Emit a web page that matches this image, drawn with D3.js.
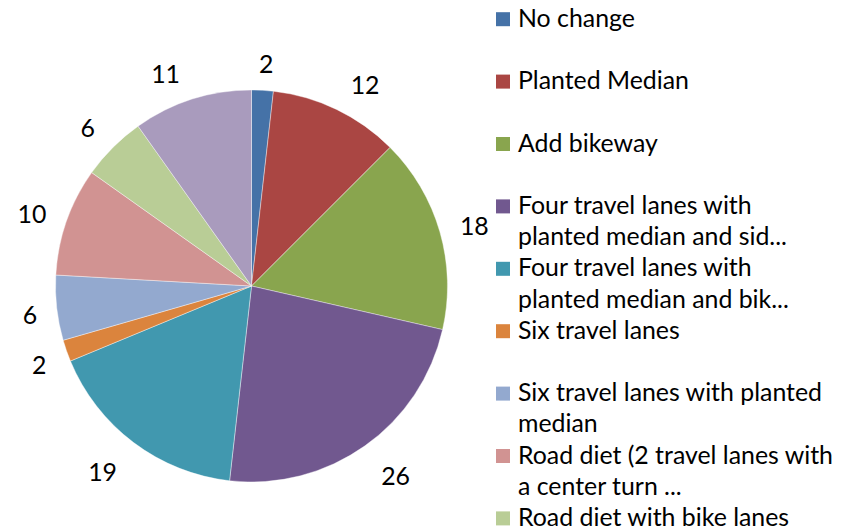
<!DOCTYPE html>
<html><head><meta charset="utf-8">
<script src="https://cdn.jsdelivr.net/npm/d3@7"></script>
<style>html,body{margin:0;padding:0;background:#fff;overflow:hidden}</style>
</head><body>
<svg id="c" width="857" height="530"></svg>
<script>
const categories = ["No change","Planted Median","Add bikeway","Four travel lanes with planted median and sid...","Four travel lanes with planted median and bik...","Six travel lanes","Six travel lanes with planted median","Road diet (2 travel lanes with a center turn ...","Road diet with bike lanes","Other"];
const values = [2,12,18,26,19,2,6,10,6,11];
const legendLines = [["No change"],["Planted Median"],["Add bikeway"],["Four travel lanes with","planted median and sid..."],["Four travel lanes with","planted median and bik..."],["Six travel lanes"],["Six travel lanes with planted","median"],["Road diet (2 travel lanes with","a center turn ..."],["Road diet with bike lanes"],["Other"]];
const colors = ["#4572A7","#AA4643","#89A54E","#71588F","#4198AF","#DB843D","#93A9CF","#D19392","#B9CD96","#A99BBD"];

const svg = d3.select("#c");
const FONT = "Lato, 'Open Sans', sans-serif";

// fit font size so reference string matches measured width
const probe = svg.append("text").attr("font-family",FONT).attr("font-size",100).text("Road diet (2 travel lanes with");
const w100 = probe.node().getComputedTextLength();
probe.remove();
const fs = 100*315/w100;

const cx = 251.5, cy = 286, R = 196;
const color = d3.scaleOrdinal().domain(categories).range(colors);
const pie = d3.pie().sort(null).value(d=>d.v);
const data = categories.map((c,i)=>({c, v:values[i]}));
const arcs = pie(data);
const arc = d3.arc().innerRadius(0).outerRadius(R);

const g = svg.append("g").attr("transform",`translate(${cx},${cy})`);
g.selectAll("path").data(arcs).join("path")
  .attr("d",arc).attr("fill",d=>color(d.data.c))
  .attr("stroke","#fff").attr("stroke-width",0.4);

// labels outside end (box placed outside the circle)
const RL = R + 19;
const clamp = (v)=>Math.max(-1, Math.min(1, v));
g.selectAll("text.lbl").data(arcs).join("text")
  .attr("class","lbl")
  .attr("font-family",FONT).attr("font-size",fs).attr("fill","#000")
  .attr("text-anchor","middle").attr("dominant-baseline","central")
  .text(d=>d.data.v)
  .each(function(d){
    const w = this.getComputedTextLength();
    const a = (d.startAngle+d.endAngle)/2;
    const s = Math.sin(a), c = Math.cos(a);
    const x = RL*s + (w/2 + 6.5*Math.abs(c))*clamp(s/0.3);
    const y = -RL*c - 11*clamp(c/0.8) + 2.5;
    d3.select(this).attr("x", x).attr("y", y);
  });

// legend
const lineH = 31.2, base0 = 26.7;
let line = 0;
const leg = svg.append("g");
legendLines.forEach((ls,i)=>{
  const b = base0 + line*lineH;
  leg.append("rect").attr("x",496).attr("y",b-14.5).attr("width",14).attr("height",14).attr("fill",color(categories[i]));
  ls.forEach((t,j)=>{
    leg.append("text").attr("x",518).attr("y",b+j*lineH)
      .attr("font-family",FONT).attr("font-size",fs).attr("fill","#000").text(t);
  });
  line += Math.max(2, ls.length);
});
</script>
</body></html>
